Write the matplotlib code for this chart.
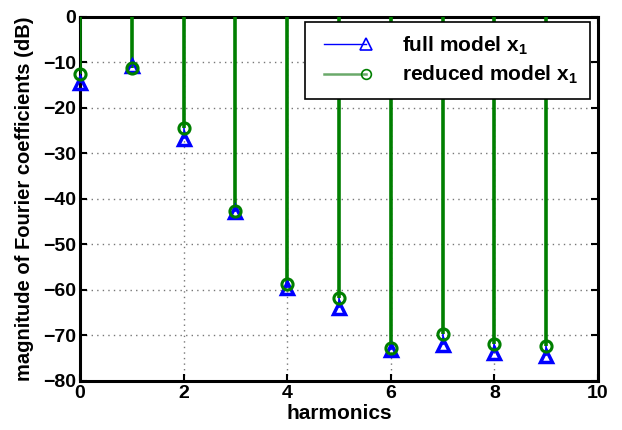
import matplotlib.pyplot as plt
from matplotlib.lines import Line2D
from matplotlib.legend_handler import HandlerLine2D
import numpy as np

plt.rcParams['font.family'] = ['Liberation Sans', 'DejaVu Sans']
plt.rcParams['font.weight'] = 'bold'
plt.rcParams['mathtext.fontset'] = 'custom'
plt.rcParams['mathtext.rm'] = 'Liberation Sans:bold'
plt.rcParams['mathtext.it'] = 'Liberation Sans:bold'
plt.rcParams['mathtext.bf'] = 'Liberation Sans:bold'

harmonics = [0, 1, 2, 3, 4, 5, 6, 7, 8, 9]
full_model = [-14.5, -10.8, -26.9, -42.8, -59.5, -64.0, -73.2, -72.0, -73.8, -74.5]
reduced_model = [-12.6, -11.3, -24.3, -42.6, -58.6, -61.8, -72.7, -69.6, -71.8, -72.3]

blue = '#0000ff'
green = '#007f00'


# matlab style legend: marker only at the right end of the line
class EndMarker(HandlerLine2D):
    def create_artists(self, legend, orig_handle, xdescent, ydescent,
                       width, height, fontsize, trans):
        arts = super().create_artists(legend, orig_handle, xdescent, ydescent,
                                      width, height, fontsize, trans)
        for a in arts:
            a.set_markevery([1])
        return arts


fig = plt.figure(figsize=(6.22, 4.30), dpi=100)
ax = fig.add_axes([0.1286, 0.114, 0.8328, 0.8465])

# stems hang from 0 down to the value
ax.vlines(harmonics, 0, full_model, colors=blue, linewidth=1.2, zorder=3)
ax.vlines(harmonics, 0, reduced_model, colors=green, linewidth=2.6, zorder=4)
ax.plot(harmonics, full_model, linestyle='none', marker='^', markersize=9,
        markerfacecolor='none', markeredgecolor=blue, markeredgewidth=2.5,
        zorder=5, clip_on=False)
ax.plot(harmonics, reduced_model, linestyle='none', marker='o', markersize=8,
        markerfacecolor='none', markeredgecolor=green, markeredgewidth=2.2,
        zorder=6, clip_on=False)

ax.set_xlim(0, 10)
ax.set_ylim(-80, 0)
ax.set_xticks(np.arange(0, 11, 2))
ax.set_yticks(np.arange(-80, 1, 10))
ax.tick_params(direction='in', top=True, right=True, labelsize=14, width=1.5, length=5, pad=3)
for s in ax.spines.values():
    s.set_linewidth(2.2)
ax.grid(True, linestyle=(0, (1, 3)), color='#777777', linewidth=1)
ax.set_axisbelow(True)

ax.set_xlabel('harmonics', fontsize=15, fontweight='bold', labelpad=1)
ax.set_ylabel('magnitude of Fourier coefficients (dB)', fontsize=14.5, fontweight='bold', labelpad=6)

handles = [
    Line2D([0], [0], color=blue, linewidth=1, marker='^', markersize=8,
           markerfacecolor='none', markeredgecolor=blue, markeredgewidth=1.2),
    Line2D([0], [0], color='#6aa96a', linewidth=1.8, marker='o', markersize=7,
           markerfacecolor='none', markeredgecolor=green, markeredgewidth=1.2),
]
labels = [r'full model x$_\mathbf{1}\ \ \ $', r'reduced model x$_\mathbf{1}\ \ \ $']
leg = ax.legend(handles, labels,
                loc='upper right', bbox_to_anchor=(0.985, 0.986), numpoints=2,
                handler_map={Line2D: EndMarker(numpoints=2)},
                fontsize=15, frameon=True, fancybox=False, edgecolor='black',
                framealpha=1, handlelength=2.6, handletextpad=1.45, borderpad=0.6,
                labelspacing=0.35, borderaxespad=0)
leg.get_frame().set_linewidth(1.2)
leg.set_zorder(10)

fig.savefig('out.png', dpi=100)
